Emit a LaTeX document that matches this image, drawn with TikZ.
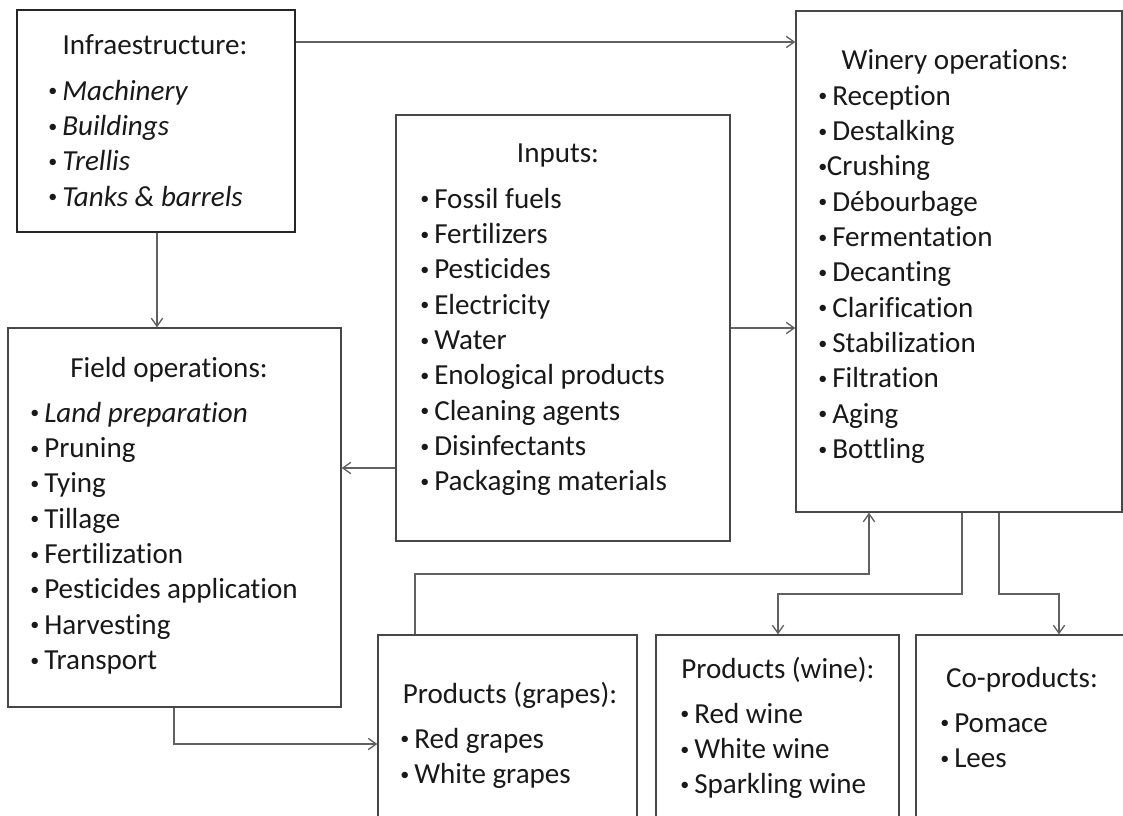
\documentclass[tikz,border=0pt]{standalone}
\usepackage{fontspec}
\setmainfont{Carlito}[Ligatures={NoCommon,NoContextual}]
\usetikzlibrary{arrows.meta,fit}
% small bullet with a fixed gap before the item text
\newcommand\dotmark{\raisebox{2.6pt}{\scalebox{0.62}{\textbullet}}}
\newcommand\itm{\makebox[10.5pt][l]{\dotmark}}
\newcommand\itmtight{\makebox[6.5pt][l]{\dotmark}}
\newcommand\firstline{\rule{0pt}{20pt}}
\begin{document}
\begin{tikzpicture}[x=0.75pt,y=-0.75pt,
  frame/.style={draw=black!72, line width=1pt, inner sep=0pt},
  link/.style={draw=black!62, line width=1pt, -{Straight Barb[length=6pt,width=8.5pt]}},
  boxtitle/.style={anchor=base, inner sep=0pt, font=\fontsize{21.8pt}{26.5pt}\selectfont, text=black!90},
  lst/.style={anchor=north west, inner sep=0pt, yshift=20pt, align=left,
              font=\fontsize{21.8pt}{26.5pt}\selectfont, text=black!90}]
\useasboundingbox (0,0) rectangle (1123,816);
\clip (0,0) rectangle (1123,816);
\fill[white] (0,0) rectangle (1123,816);

% boxes
\node[frame, draw=black!85, fit={(17,10) (295,232)}] (infra) {};
\node[frame, fit={(796,11) (1122,512)}] (winery) {};
\node[frame, fit={(396,115) (730,541)}] (inputs) {};
\node[frame, fit={(8,328) (341,707)}] (field) {};
\node[frame, fit={(378,635) (637,840)}] (grapes) {};
\node[frame, fit={(656,635) (899,840)}] (wine) {};
\node[frame, fit={(916,635) (1140,840)}] (coprod) {};

% infrastructure
\node[boxtitle] (infratitle) at (155,55) {Infraestructure:};
\node[lst] (infralist) at (48,100) {\firstline\itm\textit{Machinery}\\ \itm\textit{Buildings}\\
  \itm\textit{Trellis}\\ \itm\textit{Tanks \& barrels}};

% field operations
\node[boxtitle] (fieldtitle) at (169,377) {Field operations:};
\node[lst] (fieldlist) at (30,422) {\firstline\itm\textit{Land preparation}\\ \itm Pruning\\ \itm Tying\\
  \itm Tillage\\ \itm Fertilization\\ \itm Pesticides application\\ \itm Harvesting\\ \itm Transport};

% inputs
\node[boxtitle] (inputstitle) at (558,163) {Inputs:};
\node[lst] (inputslist) at (420,208) {\firstline\itm Fossil fuels\\ \itm Fertilizers\\ \itm Pesticides\\
  \itm Electricity\\ \itm Water\\ \itm Enological products\\ \itm Cleaning agents\\
  \itm Disinfectants\\ \itm Packaging materials};

% winery operations
\node[boxtitle] (winerytitle) at (955,70) {Winery operations:};
\node[lst] (winerylist) at (818,105) {\firstline\itm Reception\\ \itm Destalking\\ \itmtight Crushing\\
  \itm Débourbage\\ \itm Fermentation\\ \itm Decanting\\ \itm Clarification\\ \itm Stabilization\\
  \itm Filtration\\ \itm Aging\\ \itm Bottling};

% products and co-products
\node[boxtitle] (grapestitle) at (510,703) {Products (grapes):};
\node[lst] (grapeslist) at (400,748) {\firstline\itm Red grapes\\ \itm White grapes};
\node[boxtitle] (winetitle) at (778,678) {Products (wine):};
\node[lst] (winelist) at (680,723) {\firstline\itm Red wine\\ \itm White wine\\ \itm Sparkling wine};
\node[boxtitle] (coprodtitle) at (1022,687) {Co-products:};
\node[lst] (coprodlist) at (940,732) {\firstline\itm Pomace\\ \itm Lees};

% bend points of the elbow connectors
\coordinate (gbend) at (869,574);
\coordinate (wbend) at (778,594);
\coordinate (cbend) at (1059,594);

% connectors
\draw[link] (infra.east |- 0,42) -- (winery.west |- 0,42);
\draw[link] (infra.south -| 157,0) -- (field.north -| 157,0);
\draw[link] (inputs.west |- 0,468) -- (field.east |- 0,468);
\draw[link] (inputs.east |- 0,328) -- (winery.west |- 0,328);
\draw[link] (field.south -| 174,0) |- (grapes.west |- 0,744);
\draw[link] (grapes.north -| 415,0) |- (gbend) -- (winery.south -| gbend);
\draw[link] (winery.south -| 962,0) |- (wbend) -- (wine.north -| wbend);
\draw[link] (winery.south -| 999,0) |- (cbend) -- (coprod.north -| cbend);
\end{tikzpicture}
\end{document}
